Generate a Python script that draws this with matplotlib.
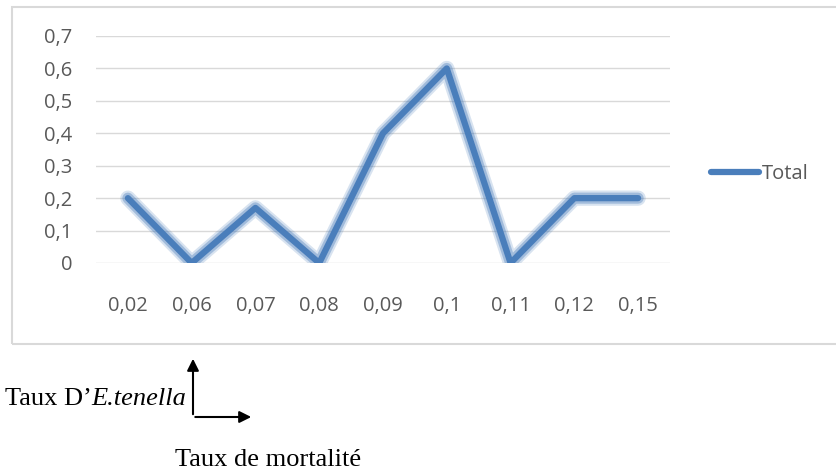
import matplotlib.pyplot as plt
from matplotlib.patches import Rectangle, FancyArrowPatch

# ============================
# DONNÉES
# ============================
categories = ["0,02", "0,06", "0,07", "0,08", "0,09", "0,1", "0,11", "0,12", "0,15"]
total = [0.2, 0.0, 0.17, 0.0, 0.4, 0.6, 0.0, 0.2, 0.2]
y_ticks = [0, 0.1, 0.2, 0.3, 0.4, 0.5, 0.6, 0.7]
y_labels = ["0", "0,1", "0,2", "0,3", "0,4", "0,5", "0,6", "0,7"]

W, H = 837, 473
fig = plt.figure(figsize=(W / 100, H / 100), dpi=100)

# cadre du graphique (style Excel)
fig.patches.append(Rectangle((12 / W, 1 - 344 / H), 840 / W, 337 / H,
                             transform=fig.transFigure, fill=False,
                             edgecolor="#d9d9d9", linewidth=1.5))

# zone de tracé
ax = fig.add_axes([96 / W, 1 - 263 / H, 574 / W, 227 / H])
x = range(len(categories))
blue = "#4f81bd"
# halo flou autour de la ligne
ax.plot(x, total, color=blue, linewidth=11, alpha=0.22, solid_capstyle="round",
        solid_joinstyle="round")
ax.plot(x, total, color=blue, linewidth=8, alpha=0.4, solid_capstyle="round",
        solid_joinstyle="round")
ax.plot(x, total, color="#4a7ebb", linewidth=4.5, solid_capstyle="round",
        solid_joinstyle="round", label="Total")

ax.set_xlim(-0.5, len(categories) - 0.5)
ax.set_ylim(0, 0.7)
ax.set_yticks(y_ticks)
ax.set_yticklabels(y_labels)
ax.set_xticks(list(x))
ax.set_xticklabels(categories)
ax.grid(axis="y", color="#d9d9d9", linewidth=1)
ax.set_axisbelow(True)
for s in ax.spines.values():
    s.set_visible(False)
ax.tick_params(length=0, labelsize=14.5, labelcolor="#595959")
ax.tick_params(axis="x", pad=24)
ax.tick_params(axis="y", pad=17)
for lab in ax.get_xticklabels() + ax.get_yticklabels():
    lab.set_fontfamily("Open Sans")

ax.legend(loc="center left", bbox_to_anchor=(1.04, 0.39), frameon=False,
          handlelength=2.4, handletextpad=0.1,
          prop={"family": "Open Sans", "size": 14.5}, labelcolor="#595959")
ax.get_legend().get_lines()[0].set_linewidth(4.5)

# flèches et légendes des axes
ox, oy = 193 / W, 1 - 417 / H
fig.patches.append(FancyArrowPatch((ox, oy), (ox, 1 - 356 / H), transform=fig.transFigure,
                                   arrowstyle="-|>,head_length=7,head_width=3.5",
                                   color="black", linewidth=1.5))
fig.patches.append(FancyArrowPatch((ox - 0.5 / W, oy), (254 / W, oy), transform=fig.transFigure,
                                   arrowstyle="-|>,head_length=7,head_width=3.5",
                                   color="black", linewidth=1.5))

t1 = fig.text(5 / W, 1 - 399 / H, "Taux D\u2019", fontsize=19, family="Liberation Serif",
              va="center", ha="left")
fig.canvas.draw()
bb = t1.get_window_extent()
fig.text(bb.x1 / W, 1 - 399 / H, "E.tenella", fontsize=19, family="Liberation Serif",
         style="italic", va="center", ha="left")
fig.text(175 / W, 1 - 460 / H, "Taux de mortalité", fontsize=19,
         family="Liberation Serif", va="center", ha="left")

fig.savefig("out.png", dpi=100)
